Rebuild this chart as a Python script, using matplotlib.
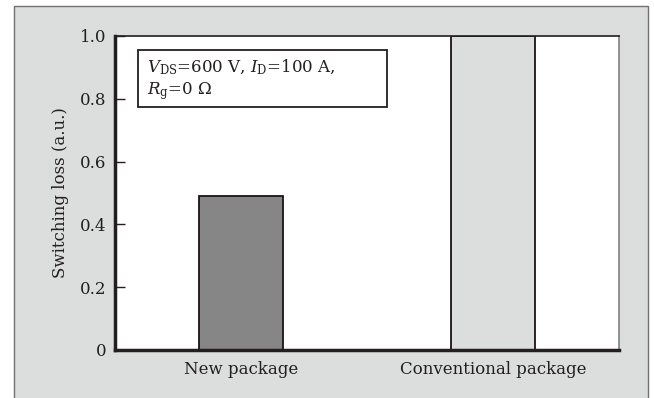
import numpy as np
import matplotlib.pyplot as plt
from matplotlib.patches import Rectangle

plt.rcParams['font.family'] = ['DejaVu Serif']
plt.rcParams['mathtext.fontset'] = 'dejavuserif'

categories = ['New package', 'Conventional package']
loss = [0.49, 1.0]
bar_colors = ['#868686', '#dcdddd']
yticks = [0, 0.2, 0.4, 0.6, 0.8, 1.0]
ytick_labels = ['0', '0.2', '0.4', '0.6', '0.8', '1.0']

W, H = 654, 398
fig = plt.figure(figsize=(W / 100, H / 100), dpi=100, facecolor='white')

# gray panel behind the chart
panel = Rectangle((14 / W, -0.05), (648 - 14) / W, 1.05 - 6 / H,
                  transform=fig.transFigure, facecolor='#dcdddd',
                  edgecolor='#707070', linewidth=1.0, zorder=-10)
fig.patches.append(panel)

ax = fig.add_axes([115 / W, 1 - 350 / H, (619 - 115) / W, (350 - 36) / H])
ax.set_facecolor('white')

x = np.arange(len(categories))
ax.bar(x, loss, width=1 / 3, color=bar_colors, edgecolor='#1a1414',
       linewidth=1.3, zorder=2)

fs = 12
ax.set_xlim(-0.5, 1.5)
ax.set_ylim(0, 1.0)
ax.set_xticks(x)
ax.set_xticklabels(categories, fontsize=fs, color='#231f20')
ax.set_yticks(yticks)
ax.set_yticklabels(ytick_labels, fontsize=fs, color='#231f20')
ax.tick_params(axis='y', direction='in', length=7, width=1, color='#231f20', pad=6)
ax.tick_params(axis='x', length=0, pad=8)
ax.set_ylabel('Switching loss (a.u.)', fontsize=fs, color='#231f20', labelpad=8)

ax.spines['left'].set_linewidth(2.5)
ax.spines['bottom'].set_linewidth(2.5)
ax.spines['left'].set_color('#231f20')
ax.spines['bottom'].set_color('#231f20')
ax.spines['top'].set_linewidth(1.2)
ax.spines['top'].set_color('#231f20')
ax.spines['right'].set_linewidth(1.2)
ax.spines['right'].set_color('#808080')

# condition box
box = Rectangle((0.046, 0.774), 0.494, 0.181, transform=ax.transAxes,
                facecolor='white', edgecolor='#231f20', linewidth=1.3, zorder=3)
ax.add_patch(box)
ax.text(0.064, 0.900, r'$V_{\mathrm{DS}}$=600 V, $I_{\mathrm{D}}$=100 A,',
        transform=ax.transAxes, fontsize=fs, color='#231f20', va='center', zorder=4)
ax.text(0.064, 0.826, r'$R_{\mathrm{g}}$=0 $\Omega$',
        transform=ax.transAxes, fontsize=fs, color='#231f20', va='center', zorder=4)

fig.savefig('out.png', dpi=100, facecolor='white')
